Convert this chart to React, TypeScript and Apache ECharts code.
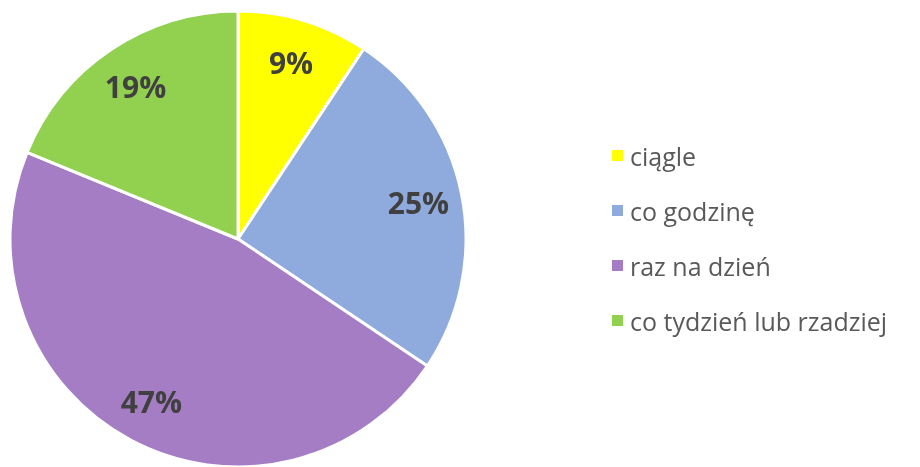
import React, { useEffect, useRef } from "react";
import * as echarts from "echarts";

const categories = ["ciągle", "co godzinę", "raz na dzień", "co tydzień lub rzadziej"];
const values = [9.3, 25.1, 46.8, 18.8];
const colors = ["#FFFF00", "#8FAADC", "#A57DC4", "#92D050"];

export default function App() {
  const ref = useRef<HTMLDivElement>(null);
  useEffect(() => {
    document.body.style.margin = "0";
    const chart = echarts.init(ref.current!, null, { renderer: "svg" });
    const data = categories.map((name, i) => ({ name, value: values[i] }));
    chart.setOption({
      animation: false,
      color: colors,
      legend: {
        orient: "vertical",
        left: 605,
        top: 138,
        icon: "rect",
        itemWidth: 13,
        itemHeight: 13,
        itemGap: 30,
        data: categories,
        textStyle: { fontFamily: "Open Sans", fontSize: 25, lineHeight: 25, color: "#595959", padding: [0, 0, 0, 1] },
      },
      series: [
        {
          type: "pie",
          center: [238, 239],
          radius: [0, 228],
          startAngle: 90,
          clockwise: true,
          data,
          label: { show: false },
          labelLine: { show: false },
          itemStyle: { borderColor: "#ffffff", borderWidth: 3 },
          emphasis: { disabled: true },
        },
        {
          type: "pie",
          center: [238, 239],
          radius: [134, 228],
          startAngle: 90,
          clockwise: true,
          data,
          silent: true,
          itemStyle: { color: "transparent" },
          label: {
            show: true,
            position: "inside",
            formatter: (p: any) => Math.round(p.percent) + "%",
            fontFamily: "Open Sans",
            fontWeight: "bold",
            fontSize: 30,
            color: "#404040",
          },
          labelLine: { show: false },
          emphasis: { disabled: true },
        },
      ],
    });
    return () => chart.dispose();
  }, []);
  return <div ref={ref} style={{ position: "fixed", left: 0, top: 0, width: 920, height: 467 }} />;
}
